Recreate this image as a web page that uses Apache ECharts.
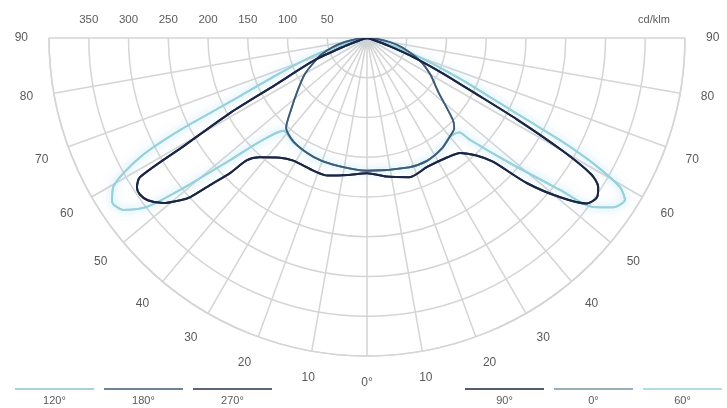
<!DOCTYPE html>
<html>
<head>
<meta charset="utf-8">
<script src="https://cdn.jsdelivr.net/npm/echarts@6/dist/echarts.min.js"></script>
<style>
  html, body { margin: 0; padding: 0; background: #fff; }
  #chart { width: 727px; height: 408px; }
</style>
</head>
<body>
<div id="chart"></div>
<script>
// Luminous intensity distribution, cd/klm, gamma angle 0° pointing down.

// C-planes 90° / 270° (wide batwing)
const batwingAngles = [-90, -80, -75, -72, -70, -67.1, -62.9, -61.3, -59.5, -58.5, -57, -55.5, -53.5, -51, -49, -48, -46.7, -45.4, -44.5, -42, -36, -31, -22, -16, -8, 0,
  8, 17, 25, 34, 39, 43, 45.5, 47.8, 50.5, 53, 55.3, 57.2, 58.7, 60, 61.5, 63, 65, 67.5, 70, 75, 80, 90];
const batwingValues = [0, 0, 4, 12, 29, 71, 130, 196, 266, 335, 345, 347, 343, 330, 311, 299, 267, 242, 216, 202, 186, 180, 180, 180, 174, 170,
  176, 183, 179, 181, 186, 202, 222, 272, 315, 346, 352, 346, 330, 285, 215, 150, 105, 65, 30, 5, 0, 0];

// C-planes 60° / 120° (outer batwing)
const outerAngles = [-90, -80, -74.7, -71.9, -67.6, -65, -63.8, -62.3, -59.6, -57.3, -54.8, -52.5, -50.9, -48.3, -45.6, -42, -35, -24, -15, 0,
  18, 26, 34, 40, 44.4, 45.3, 48.8, 51.8, 53.2, 55.5, 57.9, 59.5, 61, 62.1, 62.9, 63.9, 66.5, 70, 74, 80, 90];
const outerValues = [0, 5, 29, 69, 125, 190, 262, 322, 370, 381, 375, 349, 303, 231, 183, 157, 161, 164, 165, 167,
  171, 172, 168, 162, 166, 182, 239, 309, 355, 376, 383, 369, 325, 275, 226, 186, 125, 70, 30, 5, 0];

// C-planes 0° / 180° (narrow central lobe)
const lobeAngles = [-90, -85, -80, -75, -70, -66.7, -60, -53, -46.5, -42, -35, -24.4, -15, 0,
  18, 26, 34, 40, 44, 46.4, 53, 60, 67, 75, 80, 85, 90];
const lobeValues = [0, 12, 28, 45, 62, 70, 90, 109, 132, 152, 160, 164, 165, 167,
  171, 172, 168, 162, 158, 149, 112, 92, 72, 46, 29, 12, 0];

// Key entries (left group, right group) and which curve each plane uses
const keyLeft = ['120°', '180°', '270°'];
const keyRight = ['90°', '0°', '60°'];
const planeColors = {
  '120°': '#8fc3cb', '180°': '#3d5a76', '270°': '#26324f',
  '90°': '#1b2645', '0°': '#7396a4', '60°': '#95d2dc'
};
const planeCurve = {
  '120°': 'outer', '60°': 'outer',
  '0°': 'lobe', '180°': 'lobe',
  '270°': 'batwing', '90°': 'batwing'
};
// drawing order: light outer curves underneath, dark batwing on top
const drawOrder = ['120°', '60°', '0°', '180°', '270°', '90°'];

const radiusMax = 400;
const radiusStep = 50;
const angleStep = 10;

function pairs(angles, values) {
  return angles.map((a, i) => [values[i], a]);
}
const curves = {
  batwing: pairs(batwingAngles, batwingValues),
  outer: pairs(outerAngles, outerValues),
  lobe: pairs(lobeAngles, lobeValues)
};

const gridColor = '#d5d5d5';
const textColor = '#5a5a5a';
const font = 'Liberation Sans, Arial, sans-serif';

const series = drawOrder.map(name => ({
  name: name,
  type: 'line',
  coordinateSystem: 'polar',
  data: curves[planeCurve[name]],
  smooth: 0.25,
  symbol: 'none',
  silent: true,
  animation: false,
  lineStyle: {
    color: planeColors[name],
    width: planeCurve[name] === 'batwing' ? 2 : 1.8,
    shadowBlur: planeCurve[name] === 'outer' ? 8 : 0,
    shadowColor: 'rgba(150, 215, 235, 0.55)'
  }
}));

// Key drawn underneath the diagram: a short rule with the plane name below it
const keyGraphics = [];
function addKey(names, x0, w, gap) {
  names.forEach((n, i) => {
    const x = x0 + i * (w + gap);
    keyGraphics.push({
      type: 'line',
      shape: { x1: x, y1: 389, x2: x + w, y2: 389 },
      style: { stroke: planeColors[n], lineWidth: 1.6 }
    });
    keyGraphics.push({
      type: 'text',
      x: x + w / 2, y: 401,
      style: { text: n, fill: textColor, font: '11px ' + font, align: 'center', verticalAlign: 'middle' }
    });
  });
}
addKey(keyLeft, 15, 79, 10);
addKey(keyRight, 465, 79, 10);
keyGraphics.push({
  type: 'text',
  x: 654, y: 20,
  style: { text: 'cd/klm', fill: textColor, font: '11px ' + font, align: 'center', verticalAlign: 'middle' }
});

const chart = echarts.init(document.getElementById('chart'), null, { renderer: 'canvas' });
chart.setOption({
  backgroundColor: '#ffffff',
  animation: false,
  polar: { center: [367, 38], radius: 318 },
  angleAxis: {
    type: 'value',
    min: -90,
    max: 90,
    interval: angleStep,
    startAngle: 180,
    endAngle: 360,
    clockwise: false,
    axisLine: { show: true, lineStyle: { color: gridColor, width: 1.5 } },
    axisTick: { show: false },
    splitLine: { show: true, lineStyle: { color: gridColor, width: 1.5 } },
    axisLabel: {
      margin: 21,
      color: textColor,
      fontSize: 12,
      fontFamily: font,
      formatter: v => (v === 0 ? '0°' : String(Math.abs(v)))
    }
  },
  radiusAxis: {
    type: 'value',
    min: 0,
    max: radiusMax,
    interval: radiusStep,
    axisLine: { show: false },
    axisTick: { show: false },
    splitLine: { show: true, lineStyle: { color: gridColor, width: 1.5 } },
    axisLabel: {
      color: textColor,
      fontSize: 11.5,
      fontFamily: font,
      margin: -24,
      formatter: v => (v === 0 || v === radiusMax ? '' : String(v))
    }
  },
  series: series,
  graphic: keyGraphics
});
</script>
</body>
</html>
